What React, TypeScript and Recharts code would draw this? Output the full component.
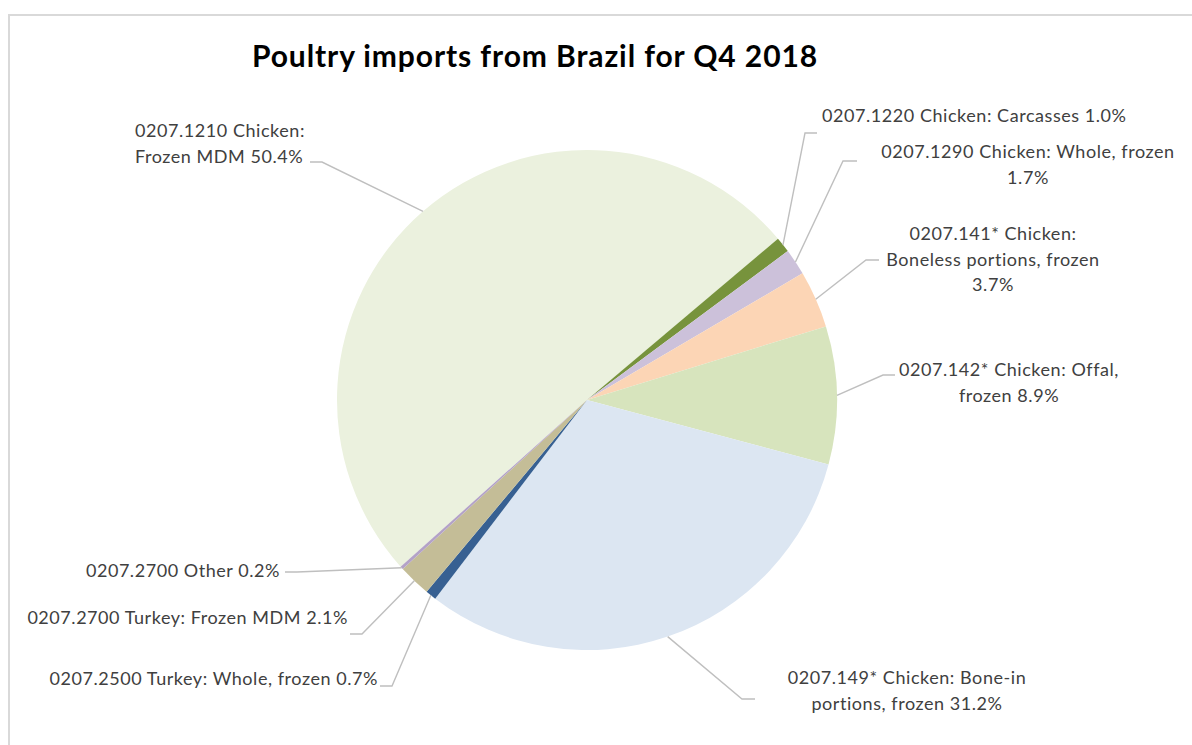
import React from 'react';
import { PieChart, Pie, Cell } from 'recharts';

const TITLE = 'Poultry imports from Brazil for Q4 2018';

const CATEGORIES = [
  '0207.1210 Chicken: Frozen MDM',
  '0207.1220 Chicken: Carcasses',
  '0207.1290 Chicken: Whole, frozen',
  '0207.141* Chicken: Boneless portions, frozen',
  '0207.142* Chicken: Offal, frozen',
  '0207.149* Chicken: Bone-in portions, frozen',
  '0207.2500 Turkey: Whole, frozen',
  '0207.2700 Turkey: Frozen MDM',
  '0207.2700 Other',
];

const SHARES = [50.4, 1.0, 1.7, 3.7, 8.9, 31.2, 0.7, 2.1, 0.2];

const COLORS = [
  '#EBF1DE', '#77933C', '#CCC1DA', '#FCD5B5', '#D7E4BD',
  '#DCE6F2', '#376092', '#C4BD97', '#B3A2C7',
];

// how each label text is wrapped
const LABEL_LINES: string[][] = [
  ['0207.1210 Chicken:', 'Frozen MDM 50.4%'],
  ['0207.1220 Chicken: Carcasses 1.0%'],
  ['0207.1290 Chicken: Whole, frozen', '1.7%'],
  ['0207.141* Chicken:', 'Boneless portions, frozen', '3.7%'],
  ['0207.142* Chicken: Offal,', 'frozen 8.9%'],
  ['0207.149* Chicken: Bone-in', 'portions, frozen 31.2%'],
  ['0207.2500 Turkey: Whole, frozen 0.7%'],
  ['0207.2700 Turkey: Frozen MDM 2.1%'],
  ['0207.2700 Other 0.2%'],
];

// label placement: text position, leader elbow and leader end
type LabelPos = { x: number; y: number; anchor: 'start' | 'middle' | 'end'; elbow: [number, number]; end: [number, number] };
const LABEL_POS: LabelPos[] = [
  { x: 135, y: 130, anchor: 'start', elbow: [322, 162], end: [310, 162] },
  { x: 822, y: 115, anchor: 'start', elbow: [805, 133], end: [817, 133] },
  { x: 1028, y: 151, anchor: 'middle', elbow: [843, 161], end: [857, 161] },
  { x: 993, y: 233, anchor: 'middle', elbow: [866, 260], end: [879, 260] },
  { x: 1009, y: 369, anchor: 'middle', elbow: [883, 375], end: [895, 375] },
  { x: 907, y: 677, anchor: 'middle', elbow: [742, 699], end: [755, 699] },
  { x: 378, y: 678, anchor: 'end', elbow: [392, 686], end: [380, 686] },
  { x: 348, y: 617, anchor: 'end', elbow: [362, 634], end: [350, 634] },
  { x: 280, y: 570, anchor: 'end', elbow: [297, 572], end: [285, 572] },
];

const data = CATEGORIES.map((name, i) => ({ name, value: SHARES[i] }));

const FONT = 'Lato, "Open Sans", sans-serif';
const RAD = Math.PI / 180;
const LINE_H = 25.5;

const renderLabel = (props: any) => {
  const { cx, cy, midAngle, outerRadius, index } = props;
  const pos = LABEL_POS[index];
  const ex = cx + outerRadius * Math.cos(-midAngle * RAD);
  const ey = cy + outerRadius * Math.sin(-midAngle * RAD);
  return (
    <g key={`lbl-${index}`}>
      <polyline
        points={`${ex},${ey} ${pos.elbow[0]},${pos.elbow[1]} ${pos.end[0]},${pos.end[1]}`}
        fill="none"
        stroke="#BFBFBF"
        strokeWidth={1.4}
      />
      <text
        x={pos.x}
        y={pos.y}
        textAnchor={pos.anchor}
        fill="#404040"
        fontSize={18}
        letterSpacing={0.55}
        fontFamily={FONT}
      >
        {LABEL_LINES[index].map((line, j) => (
          <tspan key={j} x={pos.x} y={pos.y + j * LINE_H} dominantBaseline="central">
            {line}
          </tspan>
        ))}
      </text>
    </g>
  );
};

export default function App() {
  return (
    <div style={{ position: 'relative', width: 1192, height: 745, overflow: 'hidden', background: '#fff' }}>
      <style>{'body{margin:0}'}</style>
      <div
        style={{
          position: 'absolute',
          left: 8,
          top: 14,
          width: 1200,
          height: 760,
          borderLeft: '2px solid #D9D9D9',
          borderTop: '2px solid #D9D9D9',
          boxSizing: 'border-box',
        }}
      />
      <div style={{ position: 'absolute', left: 0, top: 0 }}>
        <PieChart width={1192} height={745} margin={{ top: 0, right: 0, bottom: 0, left: 0 }}>
          <text
            x={535}
            y={67}
            textAnchor="middle"
            fontSize={30}
            fontWeight={700}
            letterSpacing={0.9}
            fontFamily={FONT}
            fill="#000"
          >
            {TITLE}
          </text>
          <Pie
            data={data}
            dataKey="value"
            nameKey="name"
            cx={587}
            cy={400}
            outerRadius={250}
            startAngle={221.8}
            endAngle={-138.2}
            stroke="none"
            label={renderLabel}
            labelLine={false}
            isAnimationActive={false}
          >
            {data.map((d, i) => (
              <Cell key={d.name} fill={COLORS[i]} />
            ))}
          </Pie>
        </PieChart>
      </div>
    </div>
  );
}
